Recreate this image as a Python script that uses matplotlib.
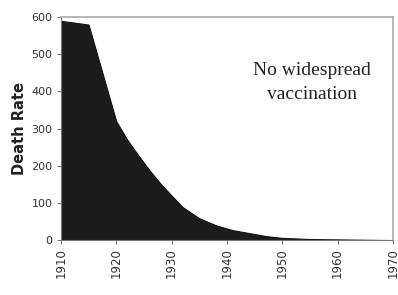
import numpy as np
import matplotlib.pyplot as plt

# death rate
years = [1910, 1915, 1920, 1922, 1924, 1926, 1928, 1930, 1932, 1935, 1938, 1941, 1944, 1947, 1950, 1955, 1960, 1965, 1970]
deathRate = [590, 580, 320, 270, 228, 188, 152, 120, 89, 59, 40, 27, 19, 11, 6, 3, 2, 1, 0]

yTicks = [0, 100, 200, 300, 400, 500, 600]
xTicks = [1910, 1920, 1930, 1940, 1950, 1960, 1970]

fig = plt.figure(figsize=(3.98, 2.95), dpi=100)
ax = fig.add_axes([0.153, 0.186, 0.834, 0.756])

ax.fill_between(years, deathRate, 0, color='#1c1c1c', linewidth=0.8, edgecolor='#111111')

ax.set_xlim(1910, 1970)
ax.set_ylim(0, 600)
ax.set_xticks(xTicks)
ax.set_yticks(yTicks)
ax.set_xticklabels([str(x) for x in xTicks], rotation=90, fontsize=8.5, color='#333333')
ax.set_yticklabels([str(y) for y in yTicks], fontsize=8, color='#333333')
ax.tick_params(axis='both', length=3, width=0.6, colors='#555555', labelcolor='#333333', pad=3)

ax.set_ylabel('Death Rate', fontsize=10.5, fontweight='bold', color='#222222', labelpad=3)

for side in ['top', 'right']:
    ax.spines[side].set_color('#aaaaaa')
    ax.spines[side].set_linewidth(1.2)
for side in ['left', 'bottom']:
    ax.spines[side].set_color('#777777')
    ax.spines[side].set_linewidth(0.8)

ax.text(1955.3, 425, 'No widespread\nvaccination', ha='center', va='center',
        fontsize=14, family='Liberation Serif', color='#222222', linespacing=1.55)

fig.savefig('out.png', dpi=100)
